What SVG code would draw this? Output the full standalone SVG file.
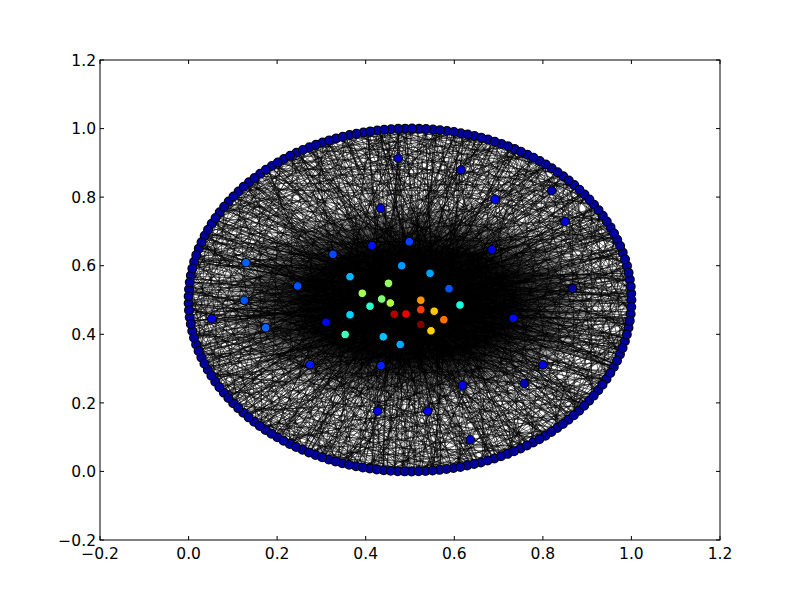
<svg xmlns="http://www.w3.org/2000/svg" xmlns:xlink="http://www.w3.org/1999/xlink" width="800" height="600" viewBox="0 0 800 600">
<style>
.e{fill:none;stroke:#000;stroke-opacity:.55;stroke-width:1;vector-effect:non-scaling-stroke}
.n{stroke:#000;stroke-width:1}
.rk{fill:none;stroke:#000;stroke-width:10;stroke-linecap:round;stroke-dasharray:0 14}
.rb{fill:none;stroke:#00009a;stroke-width:8;stroke-linecap:round;stroke-dasharray:0 14}
.t{font-family:"DejaVu Sans","Liberation Sans",sans-serif;font-size:15.5px;fill:#000}
.tk{stroke:#000;stroke-width:1;fill:none}
</style>
<defs>
<radialGradient id="core" cx="0.5" cy="0.5" r="0.5">
<stop offset="0" stop-color="#000" stop-opacity="1"/>
<stop offset="0.55" stop-color="#000" stop-opacity="0.95"/>
<stop offset="0.8" stop-color="#000" stop-opacity="0.5"/>
<stop offset="1" stop-color="#000" stop-opacity="0"/>
</radialGradient>
<path id="base" class="e" d="M100 0L-100 0M98.5-17.4L-99.6 8.7M90.6-42.3L-96.6 25.9M76.6-64.3L-90.6 42.3M57.4-81.9L-81.9 57.4M34.2-94L-70.7 70.7M8.7-99.6L-57.4 81.9M-17.4-98.5L-42.3 90.6M-42.3-90.6L-25.9 96.6M-64.3-76.6L-8.7 99.6M-81.9-57.4L8.7 99.6M-94-34.2L25.9 96.6M-99.6-8.7L42.3 90.6M-98.5 17.4L57.4 81.9M-90.6 42.3L70.7 70.7M-76.6 64.3L81.9 57.4M-57.4 81.9L90.6 42.3M-34.2 94L96.6 25.9M-8.7 99.6L99.6 8.7M17.4 98.5L99.6-8.7M42.3 90.6L96.6-25.9M64.3 76.6L90.6-42.3M81.9 57.4L81.9-57.4M94 34.2L70.7-70.7M99.6 8.7L57.4-81.9M99.6-8.7L50-86.6M94-34.2L34.2-94M81.9-57.4L17.4-98.5M64.3-76.6L0-100M42.3-90.6L-8.7-99.6M17.4-98.5L-17.4 98.5M-8.7-99.6L-17.4 98.5M-50-86.6L0 100M-76.6-64.3L64.3 76.6M-94 34.2L99.6 8.7M-64.3 76.6L70.7-70.7M-17.4 98.5L50-86.6M50 86.6L17.4-98.5M76.6 64.3L-50-86.6M100 0L5 3M96.6-25.9L-8 6M86.6-50L12-4M70.7-70.7L-3-10M50-86.6L0 8M25.9-96.6L-15 2M0-100L7 12M-25.9-96.6L20-8M-50-86.6L-20-6M-70.7-70.7L3-2M-86.6-50L5 3M-96.6-25.9L12-4M-100 0L-3-10M-96.6 25.9L7 12M-86.6 50L0 8M-70.7 70.7L-15 2M-50 86.6L20-8M-25.9 96.6L3-2M0 100L-8 6M25.9 96.6L-20-6M50 86.6L12-4M70.7 70.7L5 3M86.6 50L-3-10M96.6 25.9L0 8"/>
</defs>
<rect x="0" y="0" width="800" height="600" fill="#fff"/>
<g id="edges">
<ellipse cx="410" cy="303" rx="190" ry="100" fill="url(#core)"/>
<use xlink:href="#base" transform="translate(410 300) scale(2.214 1.714) rotate(0)"/>
<use xlink:href="#base" transform="translate(410 300) scale(2.214 1.714) rotate(23)"/>
<use xlink:href="#base" transform="translate(410 300) scale(2.214 1.714) rotate(47)"/>
<use xlink:href="#base" transform="translate(410 300) scale(2.214 1.714) rotate(68)"/>
<use xlink:href="#base" transform="translate(410 300) scale(2.214 1.714) rotate(94)"/>
<use xlink:href="#base" transform="translate(410 300) scale(2.214 1.714) rotate(117)"/>
<use xlink:href="#base" transform="translate(410 300) scale(2.214 1.714) rotate(139)"/>
<use xlink:href="#base" transform="translate(410 300) scale(2.214 1.714) rotate(162)"/>
<use xlink:href="#base" transform="translate(410 300) scale(2.214 1.714) rotate(186)"/>
<use xlink:href="#base" transform="translate(410 300) scale(2.214 1.714) rotate(208)"/>
<use xlink:href="#base" transform="translate(410 300) scale(2.214 1.714) rotate(231)"/>
<use xlink:href="#base" transform="translate(410 300) scale(2.214 1.714) rotate(253)"/>
<use xlink:href="#base" transform="translate(410 300) scale(2.214 1.714) rotate(277)"/>
<use xlink:href="#base" transform="translate(410 300) scale(2.214 1.714) rotate(299)"/>
<use xlink:href="#base" transform="translate(410 300) scale(2.214 1.714) rotate(322)"/>
<use xlink:href="#base" transform="translate(410 300) scale(2.214 1.714) rotate(344)"/>
<path class="e" d="M398 158L618.1 241.4M398 158L218.3 214.3M398 158L371.5 468.8M398 158L334.3 138.9M398 158L410 310M398 158L579.6 410.2M461 170L201.9 358.6M461 170L579.6 189.8M461 170L485.7 461.1M461 170L267.7 168.7M461 170L420 305M461 170L282.9 440.4M381 208L628.1 329.8M381 208L191.9 270.2M381 208L316.3 455.3M381 208L520.7 151.6M381 208L405 314M381 208L390.7 129.3M495 199L188.6 300M495 199L520.7 448.4M495 199L467.3 134.4M495 199L228.7 398.4M495 199L400 300M495 199L628.1 270.2M552 191L240.4 410.2M552 191L240.4 189.8M552 191L429.3 470.7M552 191L628.1 329.8M552 191L420 310M565 221L191.9 329.8M565 221L390.7 470.7M565 221L371.5 131.2M565 221L601.7 385.7M565 221L415 300M333 254L631.4 300M333 254L520.7 448.4M333 254L429.3 129.3M333 254L196.1 255.6M333 254L267.7 431.3M246 263L601.7 214.3M246 263L618.1 358.6M246 263L410 471.4M246 263L299.3 151.6M246 263L400 310M298 286L623.9 255.6M298 286L566.5 421.2M298 286L520.7 151.6M298 286L334.3 461.1M298 286L240.4 189.8M573 288L201.9 241.4M573 288L201.9 358.6M573 288L352.7 134.4M573 288L334.3 461.1M573 288L618.1 358.6M573 288L566.5 178.8M244 300L630.5 314.9M244 300L610.6 227.5M244 300L537.1 440.4M244 300L448.5 131.2M326 322L628.1 270.2M326 322L591.3 398.4M326 322L485.7 138.9M326 322L228.7 398.4M326 322L267.7 168.7M266 328L623.9 344.4M266 328L552.3 168.7M266 328L467.3 465.6M266 328L201.9 358.6M212 319L630.5 285.1M212 319L610.6 372.5M212 319L566.5 178.8M212 319L485.7 461.1M513 318L189.5 314.9M513 318L209.4 227.5M513 318L253.5 421.2M513 318L390.7 129.3M513 318L618.1 241.4M310 365L618.1 241.4M310 365L485.7 138.9M310 365L628.1 329.8M310 365L201.9 241.4M310 365L410 471.4M543 365L196.1 255.6M543 365L282.9 159.6M543 365L218.3 385.7M543 365L429.3 129.3M462 385L334.3 138.9M462 385L189.5 285.1M462 385L520.7 151.6M462 385L334.3 461.1M462 385L623.9 344.4M524 384L228.7 201.6M524 384L196.1 344.4M524 384L371.5 131.2M524 384L601.7 214.3M378 411L579.6 189.8M378 411L448.5 131.2M378 411L191.9 270.2M378 411L631.4 300M378 411L267.7 168.7M428 411L299.3 151.6M428 411L201.9 241.4M428 411L618.1 241.4M428 411L503.7 144.7M428 411L267.7 431.3M470 440L253.5 178.8M470 440L371.5 131.2M470 440L189.5 314.9M470 440L591.3 201.6"/>
</g>
<g id="ring-nodes">
<ellipse class="rk" cx="410" cy="300" rx="221.4" ry="171.4"/>
<ellipse class="rb" cx="410" cy="300" rx="221.4" ry="171.4"/>
<ellipse class="rk" cx="410" cy="300" rx="221.4" ry="171.4" stroke-dashoffset="7"/>
<ellipse class="rb" cx="410" cy="300" rx="221.4" ry="171.4" stroke-dashoffset="7"/>
</g>
<g id="nodes">
<g id="n1"><circle class="n" cx="398.3" cy="158.3" r="4.3" fill="#0000c8"/></g>
<g id="n2"><circle class="n" cx="461" cy="170" r="4.3" fill="#0000cc"/></g>
<g id="n3"><circle class="n" cx="380.7" cy="208.3" r="4.3" fill="#0000e8"/></g>
<g id="n4"><circle class="n" cx="495" cy="199.3" r="4.3" fill="#0000ff"/></g>
<g id="n5"><circle class="n" cx="551.7" cy="190.7" r="4.3" fill="#0000b0"/></g>
<g id="n6"><circle class="n" cx="565" cy="221.5" r="4.3" fill="#0000d8"/></g>
<g id="n7"><circle class="n" cx="409.3" cy="241.7" r="4.3" fill="#0040ff"/></g>
<g id="n8"><circle class="n" cx="372" cy="245.7" r="4.3" fill="#0010ff"/></g>
<g id="n9"><circle class="n" cx="333" cy="254.3" r="4.3" fill="#0048ff"/></g>
<g id="n10"><circle class="n" cx="492" cy="249.7" r="4.3" fill="#0000e0"/></g>
<g id="n11"><circle class="n" cx="246" cy="262.7" r="4.3" fill="#0060ff"/></g>
<g id="n12"><circle class="n" cx="401.7" cy="265.7" r="4.3" fill="#0098ff"/></g>
<g id="n13"><circle class="n" cx="350" cy="276.7" r="4.3" fill="#00b4ff"/></g>
<g id="n14"><circle class="n" cx="430" cy="273.3" r="4.3" fill="#00a0ff"/></g>
<g id="n15"><circle class="n" cx="297.7" cy="286" r="4.3" fill="#0050ff"/></g>
<g id="n16"><circle class="n" cx="572.7" cy="288.5" r="4.3" fill="#0000a0"/></g>
<g id="n17"><circle class="n" cx="449" cy="288.7" r="4.3" fill="#0054ff"/></g>
<g id="n18"><circle class="n" cx="388.5" cy="283.3" r="4.3" fill="#96ff60"/></g>
<g id="n19"><circle class="n" cx="362.3" cy="293.3" r="4.3" fill="#a6ff50"/></g>
<g id="n20"><circle class="n" cx="244.3" cy="300.3" r="4.3" fill="#0050ff"/></g>
<g id="n21"><circle class="n" cx="381.7" cy="299" r="4.3" fill="#80ff76"/></g>
<g id="n22"><circle class="n" cx="390.3" cy="303" r="4.3" fill="#b0ff46"/></g>
<g id="n23"><circle class="n" cx="370" cy="306.2" r="4.3" fill="#2cffca"/></g>
<g id="n24"><circle class="n" cx="420.8" cy="300.2" r="4.3" fill="#ff9600"/></g>
<g id="n25"><circle class="n" cx="460" cy="305" r="4.3" fill="#16ffe0"/></g>
<g id="n26"><circle class="n" cx="350" cy="314.8" r="4.3" fill="#00d4ff"/></g>
<g id="n27"><circle class="n" cx="420.8" cy="309.7" r="4.3" fill="#ff3800"/></g>
<g id="n28"><circle class="n" cx="434.2" cy="311.2" r="4.3" fill="#ffc800"/></g>
<g id="n29"><circle class="n" cx="394.3" cy="314.2" r="4.3" fill="#b00000"/></g>
<g id="n30"><circle class="n" cx="406" cy="314" r="4.3" fill="#ee0000"/></g>
<g id="n31"><circle class="n" cx="443.8" cy="319.7" r="4.3" fill="#ff7200"/></g>
<g id="n32"><circle class="n" cx="420.8" cy="324.5" r="4.3" fill="#800000"/></g>
<g id="n33"><circle class="n" cx="431" cy="330.8" r="4.3" fill="#ffd400"/></g>
<g id="n34"><circle class="n" cx="326" cy="322.3" r="4.3" fill="#0000ff"/></g>
<g id="n35"><circle class="n" cx="265.7" cy="327.7" r="4.3" fill="#0064ff"/></g>
<g id="n36"><circle class="n" cx="211.7" cy="318.7" r="4.3" fill="#0000ee"/></g>
<g id="n37"><circle class="n" cx="513.3" cy="318.3" r="4.3" fill="#0008ff"/></g>
<g id="n38"><circle class="n" cx="345.2" cy="334.5" r="4.3" fill="#3cffba"/></g>
<g id="n39"><circle class="n" cx="383.3" cy="336.8" r="4.3" fill="#00c4ff"/></g>
<g id="n40"><circle class="n" cx="400.2" cy="344.5" r="4.3" fill="#00a8ff"/></g>
<g id="n41"><circle class="n" cx="310" cy="364.7" r="4.3" fill="#0018ff"/></g>
<g id="n42"><circle class="n" cx="381" cy="365.7" r="4.3" fill="#0020ff"/></g>
<g id="n43"><circle class="n" cx="543" cy="365" r="4.3" fill="#0000ee"/></g>
<g id="n44"><circle class="n" cx="462.5" cy="385.3" r="4.3" fill="#0000ee"/></g>
<g id="n45"><circle class="n" cx="524.3" cy="383.5" r="4.3" fill="#0000b0"/></g>
<g id="n46"><circle class="n" cx="377.7" cy="411" r="4.3" fill="#0000ee"/></g>
<g id="n47"><circle class="n" cx="427.7" cy="411" r="4.3" fill="#0000f0"/></g>
<g id="n48"><circle class="n" cx="470.3" cy="439.7" r="4.3" fill="#0000cc"/></g>
</g>
<g id="axes">
<rect x="100" y="60" width="620" height="480" fill="none" stroke="#000" stroke-width="1"/>
<path class="tk" d="M100 540v-4M188.6 540v-4M277.1 540v-4M365.7 540v-4M454.3 540v-4M542.9 540v-4M631.4 540v-4M720 540v-4M100 60v4M188.6 60v4M277.1 60v4M365.7 60v4M454.3 60v4M542.9 60v4M631.4 60v4M720 60v4M100 540h4M100 471.4h4M100 402.9h4M100 334.3h4M100 265.7h4M100 197.1h4M100 128.6h4M100 60h4M720 540h-4M720 471.4h-4M720 402.9h-4M720 334.3h-4M720 265.7h-4M720 197.1h-4M720 128.6h-4M720 60h-4"/>
<g class="t" text-anchor="middle">
<text x="100" y="559">−0.2</text>
<text x="188.6" y="559">0.0</text>
<text x="277.1" y="559">0.2</text>
<text x="365.7" y="559">0.4</text>
<text x="454.3" y="559">0.6</text>
<text x="542.9" y="559">0.8</text>
<text x="631.4" y="559">1.0</text>
<text x="720" y="559">1.2</text>
</g>
<g class="t" text-anchor="end">
<text x="96" y="545.5">−0.2</text>
<text x="96" y="477">0.0</text>
<text x="96" y="408.5">0.2</text>
<text x="96" y="340">0.4</text>
<text x="96" y="271.3">0.6</text>
<text x="96" y="202.7">0.8</text>
<text x="96" y="134.2">1.0</text>
<text x="96" y="65.6">1.2</text>
</g>
</g>
</svg>
